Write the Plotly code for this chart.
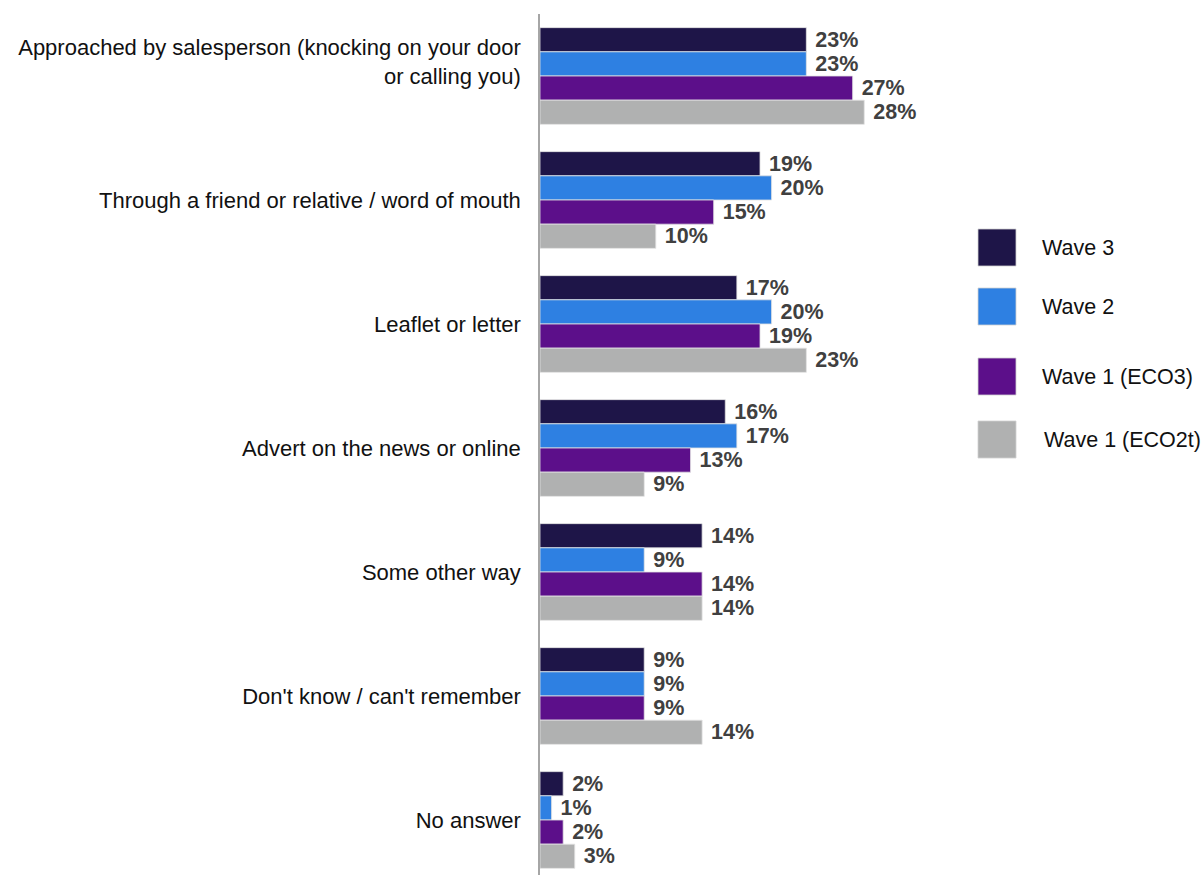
import plotly.graph_objects as go

# Survey answers: how respondents first heard about the scheme
categories = [
    "Approached by salesperson (knocking on your door<br>or calling you)<br>\u00a0",
    "Through a friend or relative / word of mouth",
    "Leaflet or letter",
    "Advert on the news or online",
    "Some other way",
    "Don't know / can't remember",
    "No answer",
]

series_names = ["Wave 3", "Wave 2", "Wave 1 (ECO3)", "Wave 1 (ECO2t)"]
wave3 = [23, 19, 17, 16, 14, 9, 2]
wave2 = [23, 20, 20, 17, 9, 9, 1]
wave1_eco3 = [27, 15, 19, 13, 14, 9, 2]
wave1_eco2t = [28, 10, 23, 9, 14, 14, 3]

series_values = [wave3, wave2, wave1_eco3, wave1_eco2t]
colors = ["#1E1548", "#2E80E2", "#5C0F8A", "#B0B1B1"]

W, H = 1204, 875
L, R, T, B = 540, 244, 14, 0
PX_PER_PCT = 11.58

fig = go.Figure()
cat_idx = list(range(len(categories)))
for name, vals, col in zip(series_names, series_values, colors):
    fig.add_trace(go.Bar(
        y=cat_idx,
        x=vals,
        name=name,
        orientation="h",
        marker=dict(color=col, line=dict(color="#E2E2E2", width=0.8)),
        text=[f"\u00a0<b>{v}%</b>" for v in vals],
        textposition="outside",
        constraintext="none",
        cliponaxis=False,
        textfont=dict(family="Liberation Sans, Arial, sans-serif", size=21.5, color="#404040"),
        showlegend=False,
    ))

plot_w = W - L - R
plot_h = H - T - B

fig.update_layout(
    width=W,
    height=H,
    margin=dict(l=L, r=R, t=T, b=B, pad=0),
    barmode="group",
    bargap=0.22,
    bargroupgap=0,
    plot_bgcolor="white",
    paper_bgcolor="white",
    font=dict(family="Liberation Sans, Arial, sans-serif", size=21, color="#111111"),
    xaxis=dict(
        range=[0, plot_w / PX_PER_PCT],
        showgrid=False,
        zeroline=False,
        showticklabels=False,
        ticks="",
        showline=False,
    ),
    yaxis=dict(
        tickmode="array",
        tickvals=cat_idx,
        ticktext=categories,
        range=[-0.5 + plot_h / 124.0, -0.5],
        showgrid=False,
        zeroline=False,
        showline=True,
        linecolor="#A6A6A6",
        linewidth=1.5,
        ticks="",
        ticklabelstandoff=13,
        tickfont=dict(size=22, color="#111111"),
    ),
)

# Legend drawn as coloured squares with labels beside them
def px_x(px):
    return (px - L) / plot_w


def px_y(py):
    return (H - B - py) / plot_h


legend_tops = [229, 288, 358, 421]
legend_text_x = [1040, 1040, 1040, 1042]
for name, col, top, tx in zip(series_names, colors, legend_tops, legend_text_x):
    fig.add_shape(
        type="rect", xref="paper", yref="paper",
        x0=px_x(978), x1=px_x(1016), y0=px_y(top + 37), y1=px_y(top),
        fillcolor=col, line=dict(color="#D0D0D0", width=0.8),
    )
    fig.add_annotation(
        xref="paper", yref="paper",
        x=px_x(tx), y=px_y(top + 18.5),
        xanchor="left", yanchor="middle",
        text=name, showarrow=False,
        font=dict(size=21.5, color="#111111"),
    )

fig.write_html("out.html")
